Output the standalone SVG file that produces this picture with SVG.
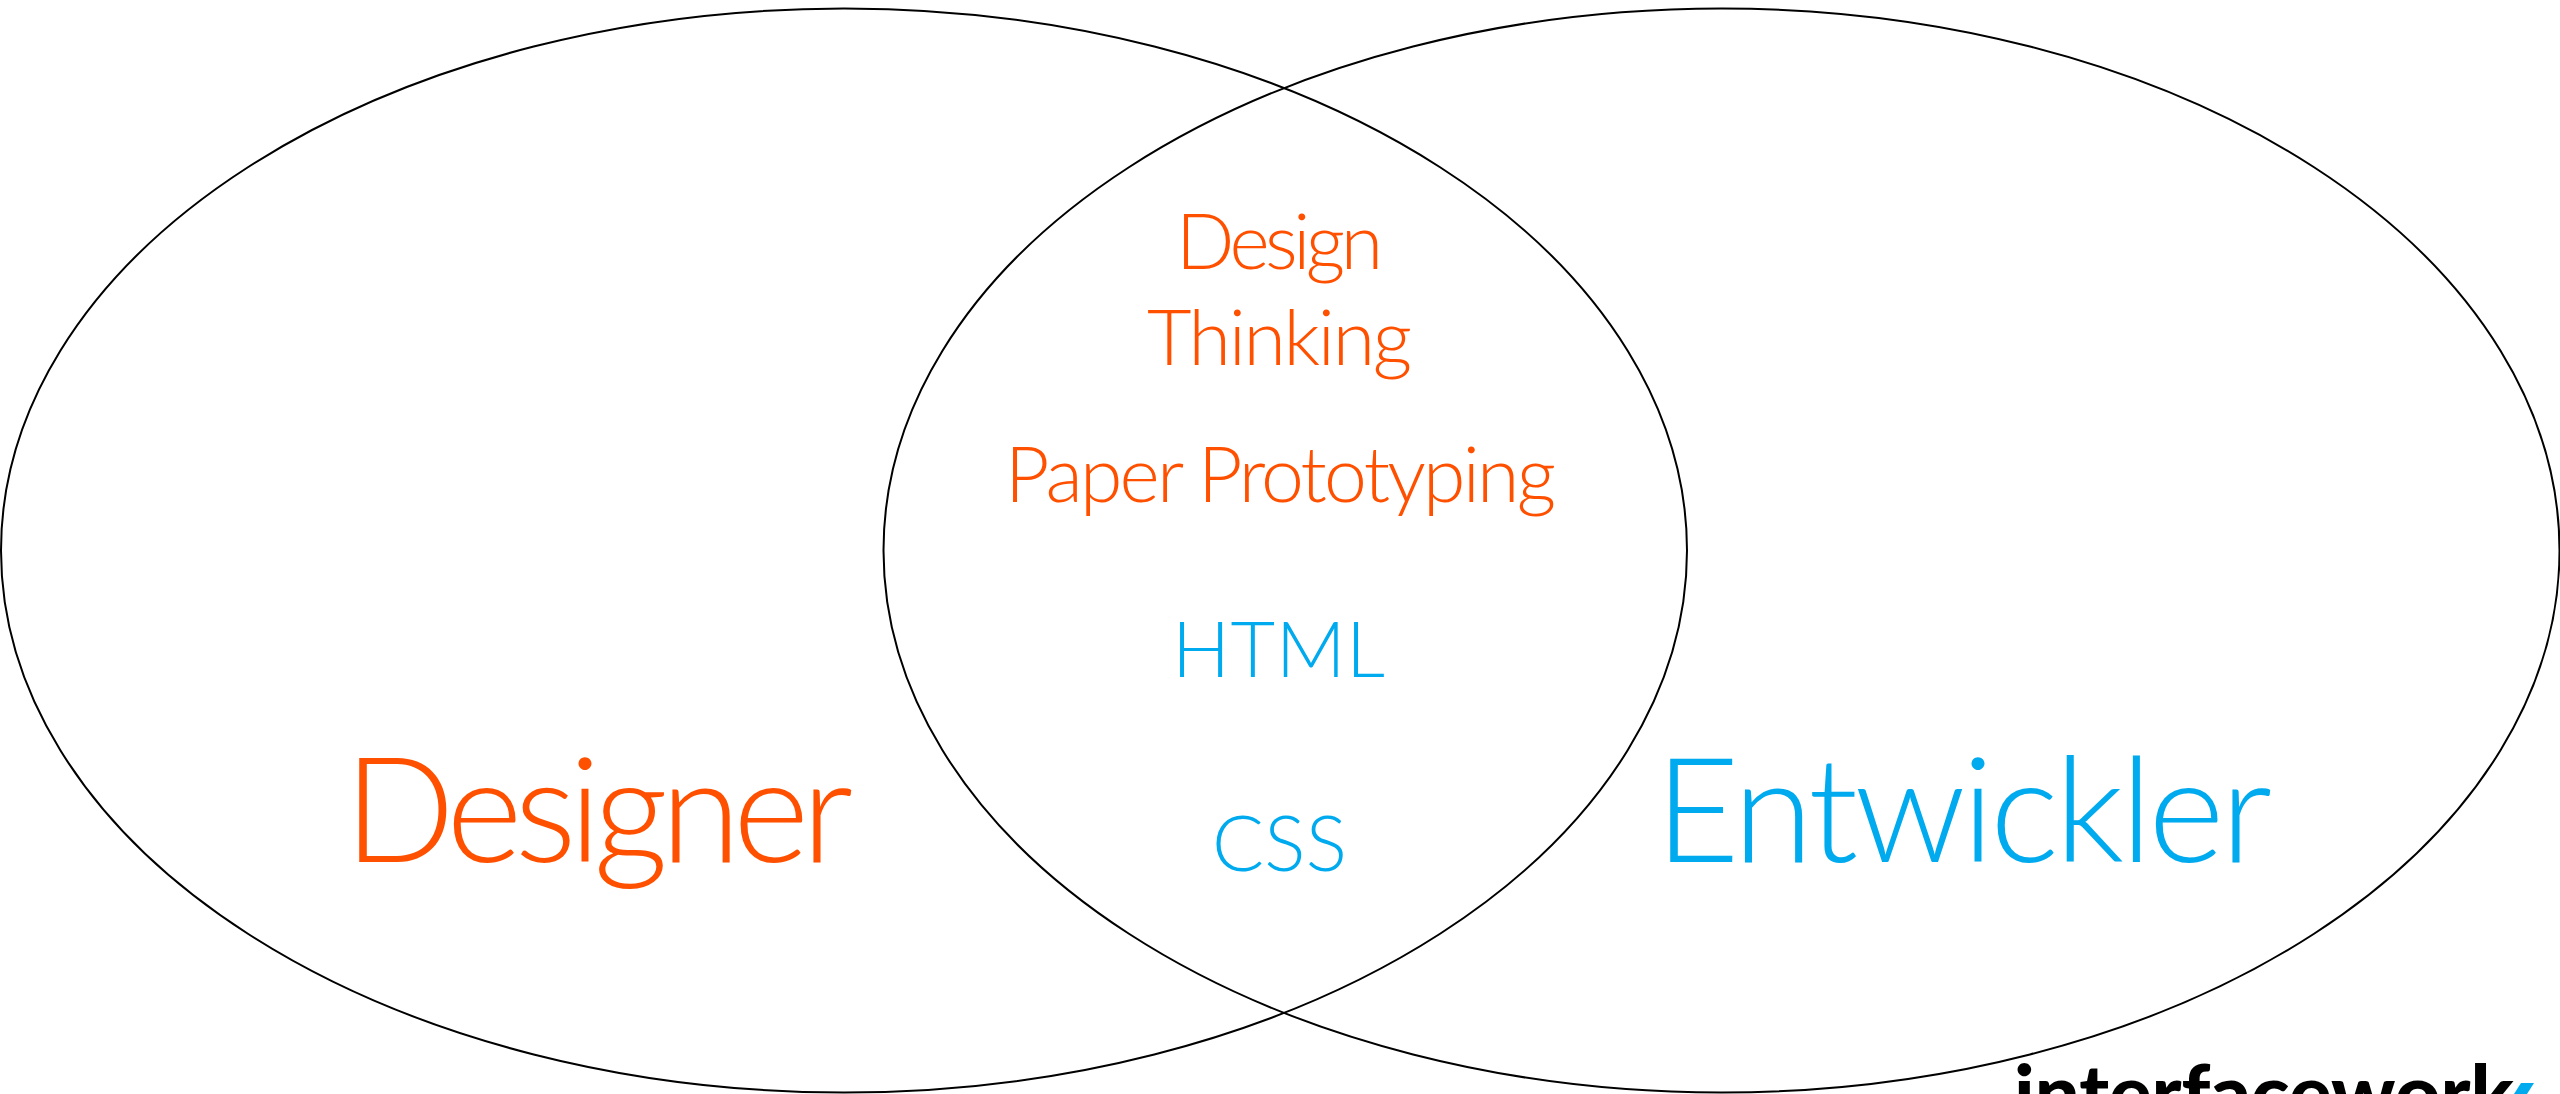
<svg xmlns="http://www.w3.org/2000/svg" width="2560" height="1094" viewBox="0 0 2560 1094">
<style>
.c{fill:none;stroke:#000;stroke-width:2}
.t{font-family:"Lato","Noto Sans",sans-serif;font-weight:300}
.o{fill:#ff5000}.b{fill:#00aaee}
.l{font-family:"Lato","Noto Sans",sans-serif;font-weight:900;fill:#000}
</style>
<rect width="2560" height="1094" fill="#fff"/>
<g id="connectors"/>
<g id="designer"><ellipse class="c" cx="844" cy="550.5" rx="843" ry="542"/>
<text class="t o" x="344" y="862" font-size="146" textLength="509" lengthAdjust="spacing">Designer</text></g>
<g id="entwickler"><ellipse class="c" cx="1721.5" cy="550.5" rx="838" ry="542"/>
<text class="t b" x="1655" y="862" font-size="146" textLength="617" lengthAdjust="spacing">Entwickler</text></g>
<g id="design-thinking">
<text class="t o" x="1176" y="269" font-size="77" textLength="207" lengthAdjust="spacing">Design</text>
<text class="t o" x="1147" y="365" font-size="77" textLength="265" lengthAdjust="spacing">Thinking</text></g>
<g id="paper-prototyping"><text class="t o" x="1005" y="502" font-size="77" textLength="551" lengthAdjust="spacing">Paper Prototyping</text></g>
<g id="html"><text class="t b" x="1172" y="677" font-size="77" textLength="213" lengthAdjust="spacing">HTML</text></g>
<g id="css"><text class="t b" x="1212" y="871" font-size="77" textLength="135" lengthAdjust="spacing">CSS</text></g>
<g id="logo"><text class="l" x="2014" y="1121" font-size="78" textLength="500" lengthAdjust="spacingAndGlyphs">interfacework</text>
<polygon class="b" points="2521,1083 2534,1083 2527,1094 2514,1094"/></g>
</svg>
